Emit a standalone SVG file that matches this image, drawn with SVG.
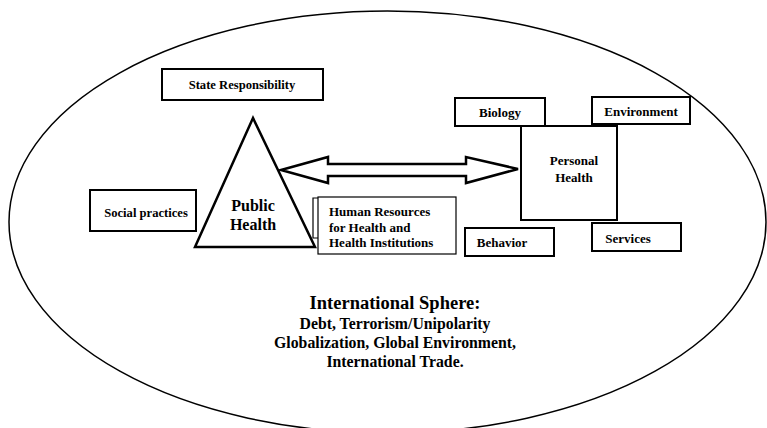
<svg xmlns="http://www.w3.org/2000/svg" width="767" height="428" viewBox="0 0 767 428">
<style>
text{font-family:"Liberation Serif","Times New Roman",serif;font-weight:bold;fill:#000}
.box{fill:#fff;stroke:#000;stroke-width:2}
.thin{fill:#fff;stroke:#000;stroke-width:1.2}
.lbl{font-size:13px;text-anchor:middle}
</style>
<rect width="767" height="428" fill="#fff"/>
<ellipse id="sphere" cx="387.5" cy="222" rx="378.5" ry="211" fill="none" stroke="#000" stroke-width="1.5"/>
<g id="connectors">
<polygon points="281,170 328,157 328,164 466,164 466,157 518,169 466,183 466,176 328,176 328,183" fill="#fff" stroke="#000" stroke-width="2.5" stroke-linejoin="miter"/>
</g>
<g id="state"><rect class="box" x="162" y="69" width="161" height="31"/><text class="lbl" x="242" y="89" style="font-size:12.6px">State Responsibility</text></g>
<g id="social"><rect class="box" x="90" y="190" width="106" height="41"/><text class="lbl" x="146" y="216.5" style="font-size:12.6px">Social practices</text></g>
<g id="public"><polygon points="253,118 195,247 315,247" fill="#fff" stroke="#000" stroke-width="2.5" stroke-linejoin="miter"/><text x="253" y="211" text-anchor="middle" font-size="16">Public</text><text x="253" y="230" text-anchor="middle" font-size="16">Health</text></g>
<g id="hr"><path d="M318,198 H313 V238 H318" fill="none" stroke="#000" stroke-width="1.2"/><rect class="thin" x="318" y="197" width="138" height="57"/><text x="329" y="215.5" font-size="13">Human Resources</text><text x="329" y="231.5" font-size="13">for Health and</text><text x="329" y="246.5" font-size="13">Health Institutions</text></g>
<g id="personal"><rect class="box" x="521" y="126" width="96" height="94"/><text class="lbl" x="574" y="164.5">Personal</text><text class="lbl" x="574" y="181.5">Health</text></g>
<g id="biology"><rect class="box" x="455" y="98" width="90" height="28"/><text class="lbl" x="500" y="117">Biology</text></g>
<g id="environment"><rect class="box" x="592" y="97" width="98" height="27"/><text class="lbl" x="641" y="116">Environment</text></g>
<g id="behavior"><rect class="box" x="465" y="228" width="89" height="28"/><text class="lbl" x="502" y="246.5">Behavior</text></g>
<g id="services"><rect class="box" x="592" y="223" width="89" height="28"/><text class="lbl" x="628" y="242.5">Services</text></g>
<g id="international">
<text x="395" y="309" text-anchor="middle" font-size="18.5">International Sphere:</text>
<text x="395" y="329" text-anchor="middle" font-size="15.8">Debt, Terrorism/Unipolarity</text>
<text x="395" y="348" text-anchor="middle" font-size="15.8">Globalization, Global Environment,</text>
<text x="395" y="367" text-anchor="middle" font-size="15.8">International Trade.</text>
</g>
</svg>
